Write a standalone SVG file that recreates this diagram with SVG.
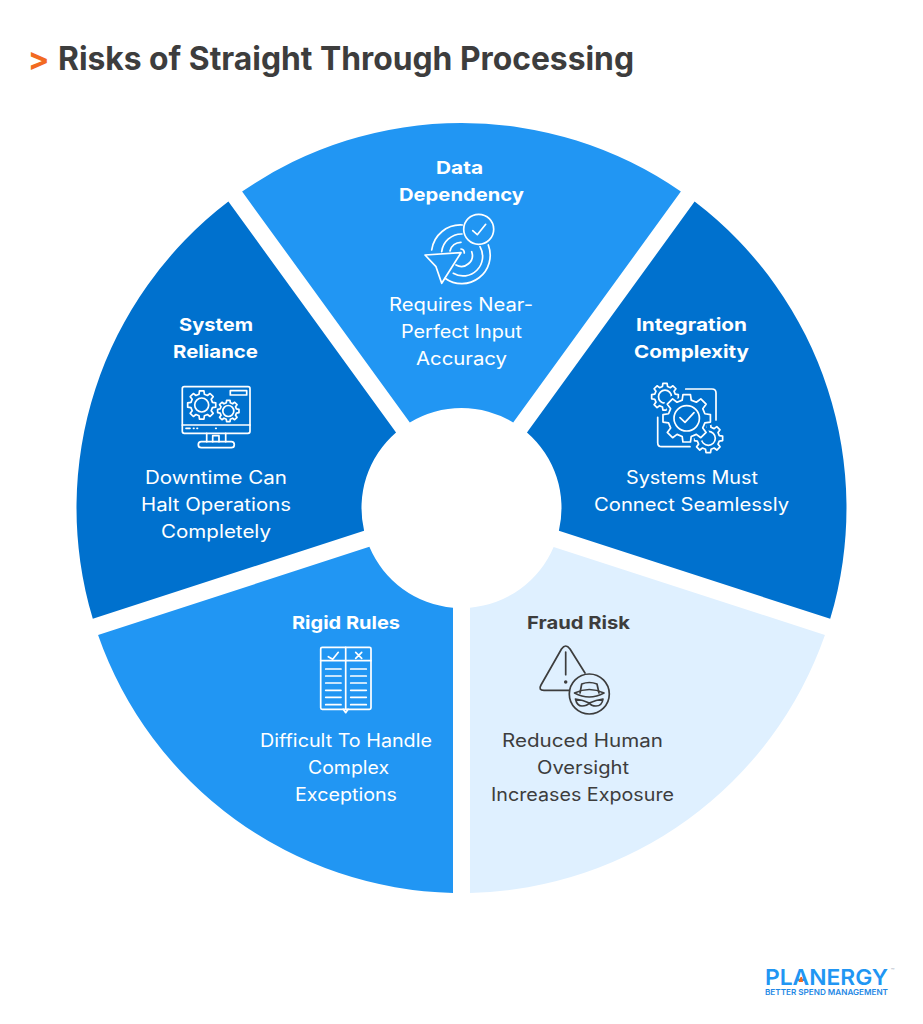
<svg xmlns="http://www.w3.org/2000/svg" xmlns:xlink="http://www.w3.org/1999/xlink" width="923" height="1024" viewBox="0 0 923 1024">
<style>
text{font-family:Inter,"Liberation Sans",sans-serif;text-anchor:middle;font-size:18px}
.h{font-weight:700}
.b{font-weight:400}
.w{fill:#fff}
.d{fill:#3d3d3d}
.dark{fill:#0071ce}
.mid{fill:#2196f3}
.pale{fill:#dff0ff}
.ic{fill:none;stroke:#fff;stroke-width:1.7;stroke-linecap:round;stroke-linejoin:round}
.ik{fill:none;stroke:#3d3d3d;stroke-width:1.7;stroke-linecap:round;stroke-linejoin:round}
</style>
<defs>
<path id="wedge" d="M824.94 635.02A385 385 0 0 1 470 892.9V607.64A100 100 0 0 0 553.64 546.88Z"/>
<path id="gear" vector-effect="non-scaling-stroke" d="M7.57-1.89L9.88-1.56L9.88 1.56L7.57 1.89L6.69 4.02L8.09 5.88L5.88 8.09L4.02 6.69L1.89 7.57L1.56 9.88L-1.56 9.88L-1.89 7.57L-4.02 6.69L-5.88 8.09L-8.09 5.88L-6.69 4.02L-7.57 1.89L-9.88 1.56L-9.88-1.56L-7.57-1.89L-6.69-4.02L-8.09-5.88L-5.88-8.09L-4.02-6.69L-1.89-7.57L-1.56-9.88L1.56-9.88L1.89-7.57L4.02-6.69L5.88-8.09L8.09-5.88L6.69-4.02Z"/>
</defs>
<rect width="923" height="1024" fill="#fff"/>
<g id="title">
<text x="38.5" y="70" style="font-size:32px;font-weight:700;fill:#f26a21">&gt;</text>
<text x="346" y="70" class="d" style="font-size:32px;font-weight:700" textLength="576" lengthAdjust="spacingAndGlyphs">Risks of Straight Through Processing</text>
</g>
<g id="connectors"/>
<g id="node-data-dependency">
<use href="#wedge" class="mid" transform="rotate(216 461.5 508)"/>
<text x="459.5" y="174" class="h w" textLength="47" lengthAdjust="spacingAndGlyphs">Data</text>
<text x="461.5" y="201" class="h w" textLength="125" lengthAdjust="spacingAndGlyphs">Dependency</text>
<g class="ic">
<path d="M431.7 250A29 29 0 0 1 462.3 225M488.3 245A28.500 28.500 0 0 1 445 278.300"/>
<path d="M441.700 251.700A20 20 0 0 1 462 234M480 246.700A19.500 19.500 0 0 1 453.300 273.300"/>
<path d="M450 251A11 11 0 0 1 461 242.300M471.700 251.700A11 11 0 0 1 456 265"/>
<path d="M461 249A4 4 0 0 1 464.300 253"/>
<path d="M425 255L461 252.700L441.700 283.300L436 266.700Z"/>
<circle cx="478.700" cy="229.300" r="15"/>
<path d="M472.700 230.700L477.300 234.700L485.700 224.300"/>
</g>
<text x="461" y="311" class="b w" textLength="144" lengthAdjust="spacingAndGlyphs">Requires Near-</text>
<text x="461.500" y="338" class="b w" textLength="121" lengthAdjust="spacingAndGlyphs">Perfect Input</text>
<text x="461.500" y="365" class="b w" textLength="91" lengthAdjust="spacingAndGlyphs">Accuracy</text>
</g>
<g id="node-integration-complexity">
<use href="#wedge" class="dark" transform="rotate(288 461.5 508)"/>
<text x="691.500" y="331" class="h w" textLength="111" lengthAdjust="spacingAndGlyphs">Integration</text>
<text x="691.500" y="358" class="h w" textLength="115" lengthAdjust="spacingAndGlyphs">Complexity</text>
<g class="ic">
<path d="M685.700 389H712Q716 389 716 393V420M657.700 417.300V442.700Q657.700 446.700 661.700 446.700H690"/>
<use href="#gear" transform="translate(665 396.700) scale(1.35)" fill="#0071ce"/>
<circle cx="665" cy="396.700" r="6.500"/>
<use href="#gear" transform="translate(708.300 438.300) scale(1.45)" fill="#0071ce"/>
<circle cx="708.300" cy="438.300" r="7"/>
<use href="#gear" transform="translate(686.700 418.300) scale(2.4)" style="stroke:#0071ce;stroke-width:6"/>
<use href="#gear" transform="translate(686.700 418.300) scale(2.4)" fill="#0071ce"/>
<circle cx="686.700" cy="418.300" r="12.700"/>
<path d="M680 417.700L685 422.300L694 412.700"/>
</g>
<text x="692" y="484" class="b w" textLength="132" lengthAdjust="spacingAndGlyphs">Systems Must</text>
<text x="691.500" y="511" class="b w" textLength="195" lengthAdjust="spacingAndGlyphs">Connect Seamlessly</text>
</g>
<g id="node-fraud-risk">
<use href="#wedge" class="pale"/>
<text x="578.500" y="629" class="h d" textLength="103" lengthAdjust="spacingAndGlyphs">Fraud Risk</text>
<g class="ik">
<path d="M569.300 690.300H544Q538 690.300 541 685L561.500 649Q565.700 643 570 649L585 673"/>
<path d="M565.700 652V674.700"/>
<circle cx="565.700" cy="682" r="0.900"/>
<circle cx="589.300" cy="694" r="20"/>
<path d="M580 693L581.700 684Q589.300 681 597 684L599 693"/>
<path d="M574.500 693Q589.300 701 604 693Q589.300 686 574.500 693Z"/>
<path d="M575.500 699Q583 700 589.300 703Q596 700 603 699Q602 706 596 706Q591 706 589.300 703Q587 706 582 706Q577 706 575.500 699Z"/>
</g>
<text x="582.500" y="747" class="b d" textLength="161" lengthAdjust="spacingAndGlyphs">Reduced Human</text>
<text x="583" y="774" class="b d" textLength="92" lengthAdjust="spacingAndGlyphs">Oversight</text>
<text x="582.500" y="801" class="b d" textLength="183" lengthAdjust="spacingAndGlyphs">Increases Exposure</text>
</g>
<g id="node-rigid-rules">
<use href="#wedge" class="mid" transform="rotate(72 461.5 508)"/>
<text x="346" y="629" class="h w" textLength="108" lengthAdjust="spacingAndGlyphs">Rigid Rules</text>
<g class="ic">
<rect x="320.700" y="647.300" width="50.300" height="62" rx="1.500"/>
<path d="M345.700 647.300V709.300M320.700 660.700H371"/>
<path d="M328.300 656.700L332.700 659.300L338.300 652.300M355.700 652.300L361.700 658.300M361.700 652.300L355.700 658.300"/>
<path d="M325.700 669H341M325.700 676H341M325.700 683H341M325.700 690.300H341M325.700 697.300H341M325.700 704.700H341"/>
<path d="M350.700 669H366.300M350.700 676H366.300M350.700 683H366.300M350.700 690.300H366.300M350.700 697.300H366.300M350.700 704.700H366.300"/>
<path d="M343.300 709.300L345.700 712.700L348 709.300"/>
</g>
<text x="346" y="747" class="b w" textLength="172" lengthAdjust="spacingAndGlyphs">Difficult To Handle</text>
<text x="348.500" y="774" class="b w" textLength="81" lengthAdjust="spacingAndGlyphs">Complex</text>
<text x="346" y="801" class="b w" textLength="102" lengthAdjust="spacingAndGlyphs">Exceptions</text>
</g>
<g id="node-system-reliance">
<use href="#wedge" class="dark" transform="rotate(144 461.5 508)"/>
<text x="216" y="331" class="h w" textLength="74" lengthAdjust="spacingAndGlyphs">System</text>
<text x="215.500" y="358" class="h w" textLength="85" lengthAdjust="spacingAndGlyphs">Reliance</text>
<g class="ic">
<rect x="182.300" y="386.700" width="67.700" height="46.600" rx="2"/>
<path d="M182.300 425H250"/>
<rect x="230.300" y="390.700" width="16.400" height="4.300"/>
<use href="#gear" transform="translate(201.700 405) scale(1.42)"/>
<circle cx="201.700" cy="405" r="7"/>
<use href="#gear" transform="translate(228.300 411) scale(1.08)"/>
<circle cx="228.300" cy="411" r="5.500"/>
<path d="M186 428.300H190M193.500 428.300H194M197 428.300H197.500M215.700 428.300H216.200"/>
<path d="M206.700 433.300V441.700M225.700 433.300V441.700M212.700 441.700V435.700H219V441.700"/>
<rect x="198.300" y="441.700" width="36" height="6" rx="3"/>
</g>
<text x="216" y="484" class="b w" textLength="142" lengthAdjust="spacingAndGlyphs">Downtime Can</text>
<text x="216" y="511" class="b w" textLength="150" lengthAdjust="spacingAndGlyphs">Halt Operations</text>
<text x="216" y="538" class="b w" textLength="110" lengthAdjust="spacingAndGlyphs">Completely</text>
</g>
<g id="logo">
<text x="826.500" y="985" style="font-size:22px;font-weight:600;fill:#2196f3" textLength="123" lengthAdjust="spacingAndGlyphs">PLANERGY</text>
<path d="M798.500 982L800.500 977L802 977L803 982Z" fill="#f26a21"/>
<text x="892.500" y="973" style="font-size:6px;fill:#9ab">™</text>
<text x="826.500" y="995" style="font-size:8px;font-weight:600;fill:#1e88e5" textLength="123" lengthAdjust="spacingAndGlyphs">BETTER SPEND MANAGEMENT</text>
</g>
</svg>
